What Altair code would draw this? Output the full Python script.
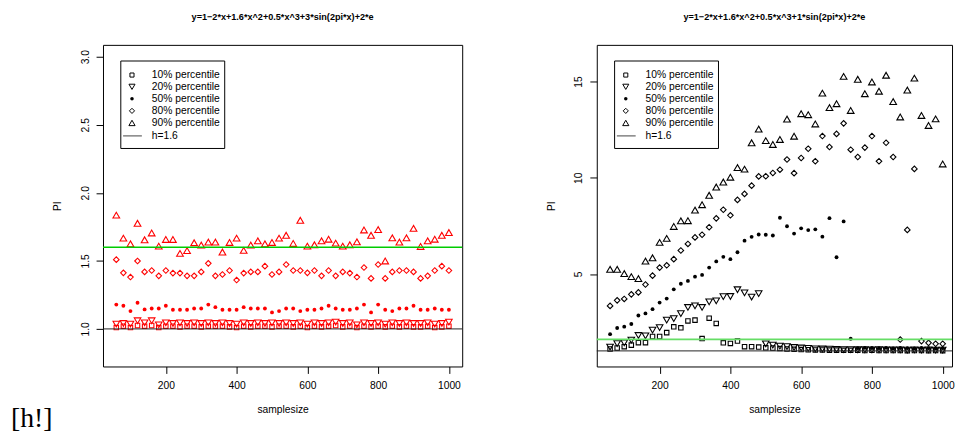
import altair as alt
import pandas as pd

# ---------------- data ----------------
samplesize = list(range(60, 1001, 20))
series_labels = ["10% percentile", "20% percentile", "50% percentile",
                 "80% percentile", "90% percentile"]

left_title = "y=1\u22122*x+1.6*x^2+0.5*x^3+3*sin(2pi*x)+2*e"
right_title = "y=1\u22122*x+1.6*x^2+0.5*x^3+1*sin(2pi*x)+2*e"

left_p10 = [1.010, 1.020, 1.010, 1.025, 1.020, 1.025, 1.010, 1.020, 1.020, 1.015, 1.020, 1.020,
            1.015, 1.020, 1.020, 1.020, 1.015, 1.010, 1.020, 1.015, 1.020, 1.020, 1.015, 1.020,
            1.020, 1.015, 1.020, 1.010, 1.020, 1.015, 1.020, 1.025, 1.015, 1.020, 1.010, 1.020,
            1.015, 1.020, 1.015, 1.020, 1.015, 1.020, 1.015, 1.015, 1.020, 1.010, 1.015, 1.020]
left_p20 = [1.035, 1.040, 1.035, 1.060, 1.045, 1.060, 1.030, 1.045, 1.040, 1.045, 1.040, 1.045,
            1.040, 1.045, 1.040, 1.045, 1.040, 1.035, 1.045, 1.040, 1.045, 1.040, 1.045, 1.040,
            1.045, 1.040, 1.045, 1.035, 1.045, 1.040, 1.045, 1.050, 1.040, 1.045, 1.030, 1.045,
            1.040, 1.045, 1.035, 1.045, 1.040, 1.045, 1.040, 1.040, 1.045, 1.035, 1.040, 1.050]
left_p50 = [1.179, 1.170, 1.131, 1.192, 1.143, 1.150, 1.150, 1.170, 1.141, 1.141, 1.141, 1.150,
            1.150, 1.179, 1.160, 1.141, 1.141, 1.141, 1.160, 1.150, 1.150, 1.150, 1.121, 1.131,
            1.150, 1.150, 1.131, 1.141, 1.141, 1.150, 1.170, 1.150, 1.141, 1.141, 1.150, 1.179,
            1.121, 1.179, 1.141, 1.131, 1.150, 1.150, 1.170, 1.141, 1.141, 1.150, 1.141, 1.141]
left_p80 = [1.509, 1.412, 1.381, 1.499, 1.419, 1.429, 1.390, 1.429, 1.410, 1.410, 1.390, 1.390,
            1.419, 1.482, 1.390, 1.400, 1.429, 1.359, 1.410, 1.419, 1.419, 1.461, 1.400, 1.419,
            1.473, 1.429, 1.429, 1.412, 1.429, 1.390, 1.429, 1.390, 1.419, 1.410, 1.381, 1.451,
            1.371, 1.473, 1.371, 1.419, 1.429, 1.429, 1.419, 1.371, 1.390, 1.429, 1.461, 1.429]
left_p90 = [1.836, 1.667, 1.625, 1.776, 1.655, 1.705, 1.608, 1.657, 1.657, 1.555, 1.575, 1.633,
            1.616, 1.638, 1.638, 1.565, 1.635, 1.667, 1.577, 1.616, 1.647, 1.625, 1.635, 1.667,
            1.688, 1.628, 1.798, 1.608, 1.618, 1.647, 1.659, 1.630, 1.608, 1.618, 1.640, 1.727,
            1.688, 1.730, 1.499, 1.669, 1.638, 1.669, 1.739, 1.606, 1.647, 1.659, 1.688, 1.708]

right_p10 = [1.10, 1.15, 1.22, 1.30, 1.43, 1.43, 1.75, 1.75, 1.95, 2.25, 2.20, 2.56,
             2.60, 1.64, 2.70, 2.43, 1.42, 1.39, 1.51, 1.22, 1.22, 1.20, 1.16, 1.15,
             1.12, 1.10, 1.08, 1.07, 1.06, 1.05, 1.05, 1.04, 1.04, 1.03, 1.03, 1.03,
             1.02, 1.03, 1.02, 1.02, 1.02, 1.02, 1.01, 1.02, 1.02, 1.01, 1.02, 1.01]
right_p20 = [1.20, 1.38, 1.42, 1.56, 1.80, 1.78, 2.08, 2.21, 2.60, 2.68, 2.94, 3.26,
             3.34, 3.26, 3.55, 3.60, 3.82, 3.83, 4.18, 4.02, 3.80, 3.98, 1.37, 1.30,
             1.25, 1.22, 1.18, 1.15, 1.13, 1.11, 1.10, 1.09, 1.08, 1.07, 1.07, 1.06,
             1.06, 1.05, 1.06, 1.05, 1.05, 1.05, 1.04, 1.05, 1.04, 1.05, 1.04, 1.04]
right_p50 = [1.87, 2.19, 2.26, 2.40, 2.84, 2.95, 3.17, 3.51, 3.72, 4.20, 4.49, 4.64,
             4.86, 4.95, 5.33, 5.65, 5.89, 5.77, 6.13, 6.73, 6.93, 7.05, 7.04, 7.00,
             7.92, 7.48, 7.10, 7.37, 7.28, 7.32, 6.94, 7.90, 5.87, 7.73, 1.63, 1.14,
             1.16, 1.15, 1.14, 1.16, 1.13, 1.15, 1.14, 1.13, 1.15, 1.14, 1.13, 1.14]
right_p80 = [3.34, 3.63, 3.70, 3.94, 4.04, 4.45, 4.91, 5.33, 5.45, 5.77, 6.22, 6.56,
             6.90, 7.04, 7.43, 7.89, 8.34, 8.05, 8.85, 9.16, 9.59, 10.07, 10.08, 10.25,
             10.42, 10.95, 10.24, 11.03, 11.51, 10.86, 12.17, 11.60, 12.28, 12.83, 11.46, 11.08,
             11.57, 12.17, 10.86, 11.82, 11.08, 1.59, 7.29, 10.46, 1.51, 1.42, 1.37, 1.37]
right_p90 = [5.24, 5.24, 5.02, 4.86, 4.76, 5.67, 5.84, 6.64, 6.85, 7.47, 7.76, 7.77,
             8.32, 8.60, 9.09, 9.52, 9.78, 10.03, 10.53, 10.45, 11.82, 12.53, 11.93, 11.73,
             11.99, 13.05, 12.16, 13.33, 13.28, 12.80, 14.40, 13.65, 13.85, 15.27, 13.50, 15.12,
             14.37, 14.98, 14.50, 15.33, 13.96, 13.16, 14.56, 15.18, 13.24, 12.72, 13.06, 10.72]

h_green = 1.6
h_black = 1.0
h_label = "h=1.6"
x_ticks = [200, 400, 600, 800, 1000]
left_y_ticks = [1.0, 1.5, 2.0, 2.5, 3.0]
right_y_ticks = [5, 10, 15]
stray_text = "[h!]"

# ---------------- style ----------------
FONT = "Liberation Sans"
FS = 10.4
# shape, size, filled for each percentile series
SHAPES = [("square", 20, False), ("triangle-down", 44, False), ("circle", 15, True),
          ("diamond", 32, False), ("triangle-up", 46, False)]
H = 325
LEG_ROWS = [30.5, 42.4, 54.5, 66.7, 78.9, 92.0]


def panel(title, series, color, green, green_w, xdom, ydom, yticks, yfmt, width,
          extra_text=False):
    rows = []
    for lab, vals in zip(series_labels, series):
        for s, v in zip(samplesize, vals):
            rows.append({"samplesize": s, "PI": v, "series": lab})
    df = pd.DataFrame(rows)

    xenc = alt.X("samplesize:Q", scale=alt.Scale(domain=xdom, nice=False, zero=False),
                 axis=alt.Axis(values=x_ticks, format="d", title="samplesize",
                               titleX=width / 2, titleY=44, titleAlign="center",
                               titleBaseline="middle", labelPadding=7))
    yenc = alt.Y("PI:Q", scale=alt.Scale(domain=ydom, nice=False, zero=False),
                 axis=alt.Axis(values=yticks, format=yfmt, title="PI", labelAngle=270,
                               labelAlign="center", labelBaseline="bottom", labelPadding=6,
                               titleAngle=270, titleX=-46, titleY=H / 2,
                               titleAlign="center", titleBaseline="middle"))
    layers = []
    for lab, (shape, size, filled) in zip(series_labels, SHAPES):
        layers.append(
            alt.Chart(df).transform_filter(alt.datum.series == lab)
            .mark_point(shape=shape, size=size, filled=filled, color=color,
                        strokeWidth=1.1, opacity=1)
            .encode(x=xenc, y=yenc)
        )
    layers.append(alt.Chart(pd.DataFrame({"PI": [h_green]}))
                  .mark_rule(color=green, strokeWidth=green_w).encode(y="PI:Q"))
    layers.append(alt.Chart(pd.DataFrame({"PI": [h_black]}))
                  .mark_rule(color="#222222", strokeWidth=1).encode(y="PI:Q"))

    one = pd.DataFrame({"k": [0]})
    # legend box
    layers.append(alt.Chart(one).mark_rect(fill="white", stroke="black", strokeWidth=1)
                  .encode(x=alt.value(18), x2=alt.value(123), y=alt.value(16.3),
                          y2=alt.value(104.7)))
    for i, (lab, (shape, size, filled)) in enumerate(zip(series_labels, SHAPES)):
        layers.append(alt.Chart(one).mark_point(shape=shape, size=size * 0.85, filled=filled,
                                                color="black", strokeWidth=1, opacity=1)
                      .encode(x=alt.value(29.3), y=alt.value(LEG_ROWS[i])))
        layers.append(alt.Chart(one).mark_text(align="left", baseline="middle", font=FONT,
                                               fontSize=FS, color="black")
                      .encode(x=alt.value(49.3), y=alt.value(LEG_ROWS[i]),
                              text=alt.value(lab)))
    layers.append(alt.Chart(one).mark_rule(color="#444444", strokeWidth=1)
                  .encode(x=alt.value(20.3), x2=alt.value(39.3), y=alt.value(LEG_ROWS[5])))
    layers.append(alt.Chart(one).mark_text(align="left", baseline="middle", font=FONT,
                                           fontSize=FS, color="black")
                  .encode(x=alt.value(49.3), y=alt.value(LEG_ROWS[5]), text=alt.value(h_label)))
    # title
    layers.append(alt.Chart(one).mark_text(align="center", baseline="alphabetic", font=FONT,
                                           fontSize=9.2, fontWeight="bold", color="black")
                  .encode(x=alt.value(width / 2), y=alt.value(-25), text=alt.value(title)))
    if extra_text:
        layers.append(alt.Chart(one).mark_text(align="left", baseline="middle",
                                               font="Liberation Serif", fontSize=28,
                                               color="black")
                      .encode(x=alt.value(-93), y=alt.value(378), text=alt.value(stray_text)))
    return alt.layer(*layers).properties(width=width, height=H)


left = panel(left_title, [left_p10, left_p20, left_p50, left_p80, left_p90], "#FF0000",
             "#00CC00", 1.3, [22.4, 1037.6], [0.724, 3.087], left_y_ticks, ".1f", 363,
             extra_text=True)
right = panel(right_title, [right_p10, right_p20, right_p50, right_p80, right_p90], "black",
              "#66DD66", 1.8, [22.4, 1026.4], [0.19, 16.91], right_y_ticks, "d", 359)

chart = (alt.hconcat(left, right, spacing=136, bounds="flush")
         .properties(padding={"left": 2, "top": 2, "right": 0, "bottom": 0})
         .configure_view(stroke="black", strokeWidth=1)
         .configure_axis(labelFont=FONT, titleFont=FONT, labelFontSize=FS, titleFontSize=FS,
                         titleFontWeight="normal", labelColor="black", titleColor="black",
                         tickColor="black", tickSize=7, domain=False, grid=False))

chart.save("out.html", embed_options={"renderer": "svg", "actions": False})
